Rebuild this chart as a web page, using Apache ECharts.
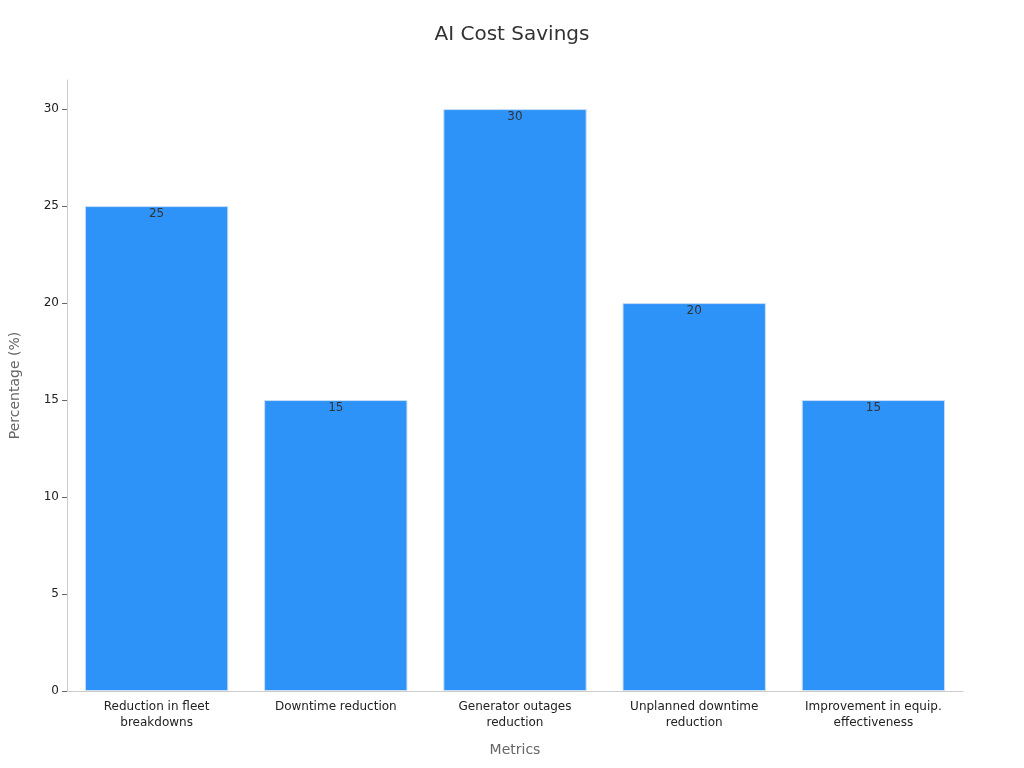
<!DOCTYPE html>
<html><head><meta charset="utf-8">
<script src="https://cdn.jsdelivr.net/npm/echarts@6/dist/echarts.min.js"></script>
<style>html,body{margin:0;padding:0;background:#fff}#c{width:1024px;height:768px}</style>
</head><body><div id="c"></div>
<script>
const categories = ["Reduction in fleet\nbreakdowns","Downtime reduction","Generator outages\nreduction","Unplanned downtime\nreduction","Improvement in equip.\neffectiveness"];
const values = [25,15,30,20,15];
const chart = echarts.init(document.getElementById('c'));
chart.setOption({
  animation:false,
  title:{text:'AI Cost Savings',left:'center',top:20,textStyle:{fontFamily:'DejaVu Sans',fontSize:20,fontWeight:'normal',color:'#333'}},
  grid:{left:60,right:61,top:80,bottom:77},
  xAxis:{type:'category',data:categories,name:'Metrics',nameLocation:'middle',nameGap:52,
    nameTextStyle:{fontFamily:'DejaVu Sans',fontSize:14,color:'#666'},
    axisLine:{lineStyle:{color:'#ccc'}},axisTick:{show:false},
    axisLabel:{fontFamily:'DejaVu Sans',fontSize:12,color:'#222',lineHeight:16,interval:0}},
  yAxis:{type:'value',min:0,max:31.5,interval:5,name:'Percentage (%)',nameLocation:'middle',nameGap:45,
    nameTextStyle:{fontFamily:'DejaVu Sans',fontSize:14,color:'#666'},
    axisLine:{show:true,lineStyle:{color:'#ccc'}},axisTick:{show:true,lineStyle:{color:'#666'}},
    splitLine:{show:false},
    axisLabel:{fontFamily:'DejaVu Sans',fontSize:12,color:'#222',showMaxLabel:false}},
  series:[{type:'bar',data:values,barWidth:'80%',
    itemStyle:{color:'#2e93f8',borderColor:'#c9dff5',borderWidth:1},
    label:{show:true,position:'insideTop',offset:[0,-3],fontFamily:'DejaVu Sans',fontSize:12,color:'#333'}}]
});
</script></body></html>
